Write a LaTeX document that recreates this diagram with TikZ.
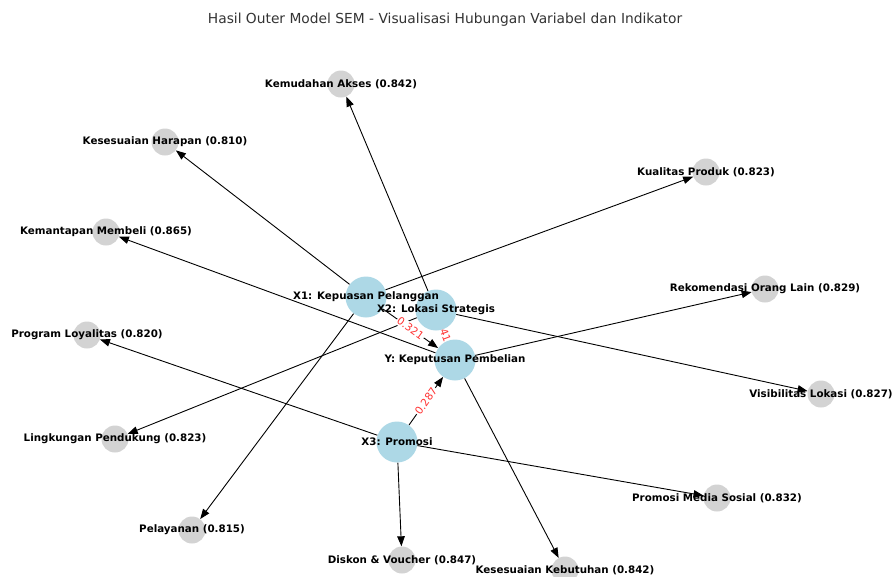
\documentclass[tikz,border=0pt]{standalone}
\usepackage{fontspec}
\setmainfont{DejaVu Sans}
\usetikzlibrary{arrows.meta}

\definecolor{latentblue}{HTML}{ADD8E6}
\definecolor{indicatorgray}{HTML}{D3D3D3}
\definecolor{weightred}{HTML}{FF3333}
\definecolor{titlegray}{HTML}{333333}

\pgfdeclarelayer{background}
\pgfsetlayers{background,main}

\tikzset{
    latent/.style={circle, fill=latentblue, minimum size=41pt, inner sep=0pt},
    indicator/.style={circle, fill=indicatorgray, minimum size=27pt, inner sep=0pt},
    caption/.style={font=\bfseries\fontsize{10.3}{12}\selectfont, inner sep=0pt},
    loading/.style={-{Triangle[length=10pt,width=7.5pt]}, line width=0.9pt},
    link/.style={line width=0.9pt},
    weight/.style={sloped, fill=white, text=weightred, font=\fontsize{10.5}{12}\selectfont, inner sep=1pt}
}

\begin{document}
\begin{tikzpicture}[x=1pt, y=-1pt]
    \useasboundingbox (0,0) rectangle (893,576);

    \node[text=titlegray, font=\fontsize{13.8}{16}\selectfont] (Title) at (445,20) {Hasil Outer Model SEM - Visualisasi Hubungan Variabel dan Indikator};

    % Nodes
    \node[latent] (X1) at (366,297) {};
    \node[latent] (X2) at (436,310) {};
    \node[latent] (Y) at (455,360) {};
    \node[latent] (X3) at (397,442) {};

    \node[indicator] (KemudahanAkses) at (341,84) {};
    \node[indicator] (KesesuaianHarapan) at (165,142) {};
    \node[indicator] (KualitasProduk) at (706,172) {};
    \node[indicator] (KemantapanMembeli) at (106,232) {};
    \node[indicator] (RekomendasiOrangLain) at (765,289) {};
    \node[indicator] (ProgramLoyalitas) at (87,335) {};
    \node[indicator] (VisibilitasLokasi) at (821,394) {};
    \node[indicator] (LingkunganPendukung) at (115,439) {};
    \node[indicator] (PromosiMediaSosial) at (717,498) {};
    \node[indicator] (Pelayanan) at (192,530) {};
    \node[indicator] (DiskonVoucher) at (402,560) {};
    \node[indicator] (KesesuaianKebutuhan) at (565,570) {};

    % Labels
    \node[caption] (X1Text) at (X1.center) {X1: Kepuasan Pelanggan};
    \node[caption] (X2Text) at (X2.center) {X2: Lokasi Strategis};
    \node[caption] (YText) at (Y.center) {Y: Keputusan Pembelian};
    \node[caption] (X3Text) at (X3.center) {X3: Promosi};

    \node[caption] (KemudahanAksesText) at (KemudahanAkses.center) {Kemudahan Akses (0.842)};
    \node[caption] (KesesuaianHarapanText) at (KesesuaianHarapan.center) {Kesesuaian Harapan (0.810)};
    \node[caption] (KualitasProdukText) at (KualitasProduk.center) {Kualitas Produk (0.823)};
    \node[caption] (KemantapanMembeliText) at (KemantapanMembeli.center) {Kemantapan Membeli (0.865)};
    \node[caption] (RekomendasiOrangLainText) at (RekomendasiOrangLain.center) {Rekomendasi Orang Lain (0.829)};
    \node[caption] (ProgramLoyalitasText) at (ProgramLoyalitas.center) {Program Loyalitas (0.820)};
    \node[caption] (VisibilitasLokasiText) at (VisibilitasLokasi.center) {Visibilitas Lokasi (0.827)};
    \node[caption] (LingkunganPendukungText) at (LingkunganPendukung.center) {Lingkungan Pendukung (0.823)};
    \node[caption] (PromosiMediaSosialText) at (PromosiMediaSosial.center) {Promosi Media Sosial (0.832)};
    \node[caption] (PelayananText) at (Pelayanan.center) {Pelayanan (0.815)};
    \node[caption] (DiskonVoucherText) at (DiskonVoucher.center) {Diskon \& Voucher (0.847)};
    \node[caption] (KesesuaianKebutuhanText) at (KesesuaianKebutuhan.center) {Kesesuaian Kebutuhan (0.842)};

    % Edges
    \begin{pgfonlayer}{background}
        \draw[loading] (X1) -- (KesesuaianHarapan);
        \draw[loading] (X1) -- (KualitasProduk);
        \draw[loading] (X1) -- (Pelayanan);

        \draw[loading] (X2) -- (KemudahanAkses);
        \draw[loading] (X2) -- (VisibilitasLokasi);
        \draw[loading] (X2) -- (LingkunganPendukung);

        \draw[loading] (X3) -- (ProgramLoyalitas);
        \draw[loading] (X3) -- (PromosiMediaSosial);
        \draw[loading] (X3) -- (DiskonVoucher);

        \draw[loading] (Y) -- (KemantapanMembeli);
        \draw[loading] (Y) -- (RekomendasiOrangLain);
        \draw[loading] (Y) -- (KesesuaianKebutuhan);

        % Structural paths
        \draw[loading] (X1) -- node[weight] {0.321} (Y);
        \draw[link] (X2) -- node[weight] {41} (Y);
        \draw[loading] (X3) -- node[weight] {0.287} (Y);
    \end{pgfonlayer}
\end{tikzpicture}
\end{document}
